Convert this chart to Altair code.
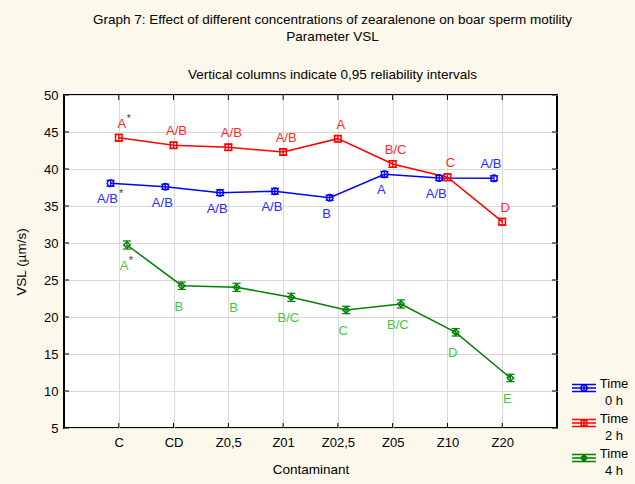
import json
import altair as alt
import pandas as pd

# ---------------- data ----------------
categories = ["C", "CD", "Z0,5", "Z01", "Z02,5", "Z05", "Z10", "Z20"]
series_names = ["Time|0 h", "Time|2 h", "Time|4 h"]

vsl_0h = [38.07, 37.60, 36.80, 36.99, 36.12, 39.28, 38.78, 38.74]
vsl_2h = [44.23, 43.20, 42.93, 42.30, 44.10, 40.68, 38.88, 32.88]
vsl_4h = [29.73, 24.23, 24.01, 22.66, 20.95, 21.76, 17.93, 11.76]

ci_0h = [0.40, 0.35, 0.40, 0.40, 0.35, 0.40, 0.35, 0.35]
ci_2h = [0.45, 0.40, 0.40, 0.40, 0.40, 0.45, 0.45, 0.45]
ci_4h = [0.55, 0.50, 0.55, 0.55, 0.50, 0.55, 0.50, 0.50]

letters_0h = ["A/B", "A/B", "A/B", "A/B", "B", "A", "A/B", "A/B"]
letters_2h = ["A", "A/B", "A/B", "A/B", "A", "B/C", "C", "D"]
letters_4h = ["A", "B", "B", "B/C", "C", "B/C", "D", "E"]

star_0h = [1, 0, 0, 0, 0, 0, 0, 0]
star_2h = [1, 0, 0, 0, 0, 0, 0, 0]
star_4h = [1, 0, 0, 0, 0, 0, 0, 0]

side_0h = ["below"] * 7 + ["above"]
side_2h = ["above"] * 8
side_4h = ["below"] * 8

y_ticks = [5, 10, 15, 20, 25, 30, 35, 40, 45, 50]

# ---------------- styles ----------------
line_colors = ["#0000ff", "#ff0000", "#008000"]
text_colors = ["#2a2aff", "#ff2a2a", "#44c844"]
x_shift = [-0.15, 0.0, 0.15]
marker_shapes = ["circle", "square", "diamond"]
label_dx = [-3, 3, -3]
label_dy = {"above": -14, "below": 16}
label_dy_green = 21

legend_paths = [
    "M-1,-0.3H1M-1,0.3H1M-1,0H1M0,-0.3V0.3M0.25,0A0.25,0.25 0 1,1 -0.25,0A0.25,0.25 0 1,1 0.25,0",
    "M-1,-0.3H1M-1,0.3H1M-1,0H1M0,-0.3V0.3M-0.22,-0.22H0.22V0.22H-0.22Z",
    "M-1,-0.3H1M-1,0.3H1M-1,0H1M0,-0.3V0.3M0,-0.27L0.27,0L0,0.27L-0.27,0Z",
]

rows = []
for s, (vals, cis, lets, stars, sides) in enumerate([
    (vsl_0h, ci_0h, letters_0h, star_0h, side_0h),
    (vsl_2h, ci_2h, letters_2h, star_2h, side_2h),
    (vsl_4h, ci_4h, letters_4h, star_4h, side_4h),
]):
    for i, cat in enumerate(categories):
        rows.append({
            "series": series_names[s], "sidx": s, "idx": i + 1, "cat": cat,
            "value": vals[i], "ci": cis[i], "letter": lets[i],
            "star": stars[i], "side": sides[i],
            "lc": line_colors[s], "tc": text_colors[s], "xo": x_shift[s],
        })
df = pd.DataFrame(rows)
df["xpos"] = df["idx"] + df["xo"]
df["lo"] = df["value"] - df["ci"]
df["hi"] = df["value"] + df["ci"]
df["xl"] = df["xpos"] - 0.075
df["xr"] = df["xpos"] + 0.075

W, H = 493, 333
label_expr = json.dumps(categories).replace('"', "'") + "[datum.value - 1]"

xaxis = alt.Axis(values=list(range(1, 9)), labelExpr=label_expr, title="Contaminant",
                 ticks=False, domain=False, grid=True, labelPadding=8, titlePadding=13,
                 labelAngle=0)
yaxis = alt.Axis(values=y_ticks, title="VSL (µm/s)", ticks=False, domain=False, grid=True,
                 labelPadding=6, titlePadding=15)
xscale = alt.Scale(domain=[0, 9], nice=False, zero=False)
yscale = alt.Scale(domain=[5, 50], nice=False, zero=False)


def X(f):
    return alt.X(f, type="quantitative", scale=xscale, axis=xaxis)


def Y(f):
    return alt.Y(f, type="quantitative", scale=yscale, axis=yaxis)


base = alt.Chart(df)

layers = []

# inward ticks on all four frame sides
ytick_df = pd.DataFrame({"v": y_ticks})
xtick_df = pd.DataFrame({"idx": list(range(1, 9))})
layers.append(alt.Chart(ytick_df).mark_rule(color="black", strokeWidth=1).encode(
    y=Y("v"), x=alt.value(0), x2=alt.value(5)))
layers.append(alt.Chart(ytick_df).mark_rule(color="black", strokeWidth=1).encode(
    y=Y("v"), x=alt.value(W - 5), x2=alt.value(W)))
layers.append(alt.Chart(xtick_df).mark_rule(color="black", strokeWidth=1).encode(
    x=X("idx"), y=alt.value(H - 5), y2=alt.value(H)))
layers.append(alt.Chart(xtick_df).mark_rule(color="black", strokeWidth=1).encode(
    x=X("idx"), y=alt.value(0), y2=alt.value(5)))

# lines
layers.append(base.mark_line(strokeWidth=1.5).encode(
    x=X("xpos"), y=Y("value"),
    color=alt.Color("lc:N", scale=None), detail="series:N", order="idx:Q"))

# error bars
layers.append(base.mark_rule(strokeWidth=1.2).encode(
    x=X("xpos"), y=Y("lo"), y2="hi:Q", color=alt.Color("lc:N", scale=None)))
layers.append(base.mark_rule(strokeWidth=1.2).encode(
    x=X("xl"), x2="xr:Q", y=Y("lo"), color=alt.Color("lc:N", scale=None)))
layers.append(base.mark_rule(strokeWidth=1.2).encode(
    x=X("xl"), x2="xr:Q", y=Y("hi"), color=alt.Color("lc:N", scale=None)))

# markers, one layer per series
for s in range(3):
    layers.append(base.transform_filter(alt.datum.sidx == s).mark_point(
        filled=False, size=42, strokeWidth=1.5, opacity=1, shape=marker_shapes[s]).encode(
        x=X("xpos"), y=Y("value"), color=alt.Color("lc:N", scale=None)))

# letter labels
for s in range(3):
    for side in ["above", "below"]:
        dy = label_dy[side] if s < 2 else label_dy_green
        sub = base.transform_filter(
            (alt.datum.sidx == s) & (alt.datum.side == side))
        layers.append(sub.mark_text(fontSize=13, dx=label_dx[s], dy=dy,
                                    font="Liberation Sans").encode(
            x=X("xpos"), y=Y("value"), text="letter:N",
            color=alt.Color("tc:N", scale=None)))
        layers.append(sub.transform_filter(alt.datum.star == 1).transform_calculate(
            sx="datum.xpos + (length(datum.letter) > 1 ? 0.215 : 0.09)"
        ).mark_text(fontSize=10, dx=label_dx[s], dy=dy - 5, align="left",
                    color="#333333", font="Liberation Sans").encode(
            x=X("sx"), y=Y("value"), text=alt.value("*")))

# legend carrier (no marks drawn)
legend = alt.Legend(title=None, orient="none", legendX=507, legendY=280,
                    labelExpr="split(datum.label, '|')", labelFontSize=13,
                    labelAlign="center", labelOffset=17, labelBaseline="alphabetic",
                    symbolSize=576, symbolStrokeWidth=1.5, rowPadding=2, padding=0,
                    labelColor="black")
layers.append(base.transform_filter("false").mark_point(filled=False, size=576,
                                                        strokeWidth=1.5).encode(
    x=X("xpos"), y=Y("value"),
    color=alt.Color("series:N", scale=alt.Scale(domain=series_names, range=line_colors),
                    legend=legend),
    shape=alt.Shape("series:N", scale=alt.Scale(domain=series_names, range=legend_paths),
                    legend=legend)))

chart = alt.layer(*layers).properties(
    width=W, height=H,
    autosize=alt.AutoSizeParams(type="none"),
    padding={"left": 64, "top": 95, "right": 78, "bottom": 56},
    title=alt.Title(
        text=["Graph 7: Effect of different concentrations of zearalenone on boar sperm motility",
              "Parameter VSL"],
        subtitle="Vertical columns indicate 0,95 reliability intervals",
        fontSize=13.5, fontWeight="normal", lineHeight=17, offset=8, dx=22,
        subtitleFontSize=13.5, subtitleColor="black", subtitleFont="Liberation Sans",
        subtitlePadding=24, subtitleLineHeight=17,
        anchor="middle", color="black", font="Liberation Sans"),
).configure(
    background="#fdf8ec", font="Liberation Sans",
    style={"guide-label": {"lineHeight": 17}},
).configure_view(
    fill="white", stroke="black", strokeWidth=2
).configure_axis(
    labelFontSize=13, titleFontSize=13.5, labelColor="black", titleColor="black",
    titleFontWeight="normal", gridColor="#d9d9d9", gridWidth=1,
    labelFont="Liberation Sans", titleFont="Liberation Sans"
)

chart.save("out.html", embed_options={"renderer": "svg", "actions": False})
